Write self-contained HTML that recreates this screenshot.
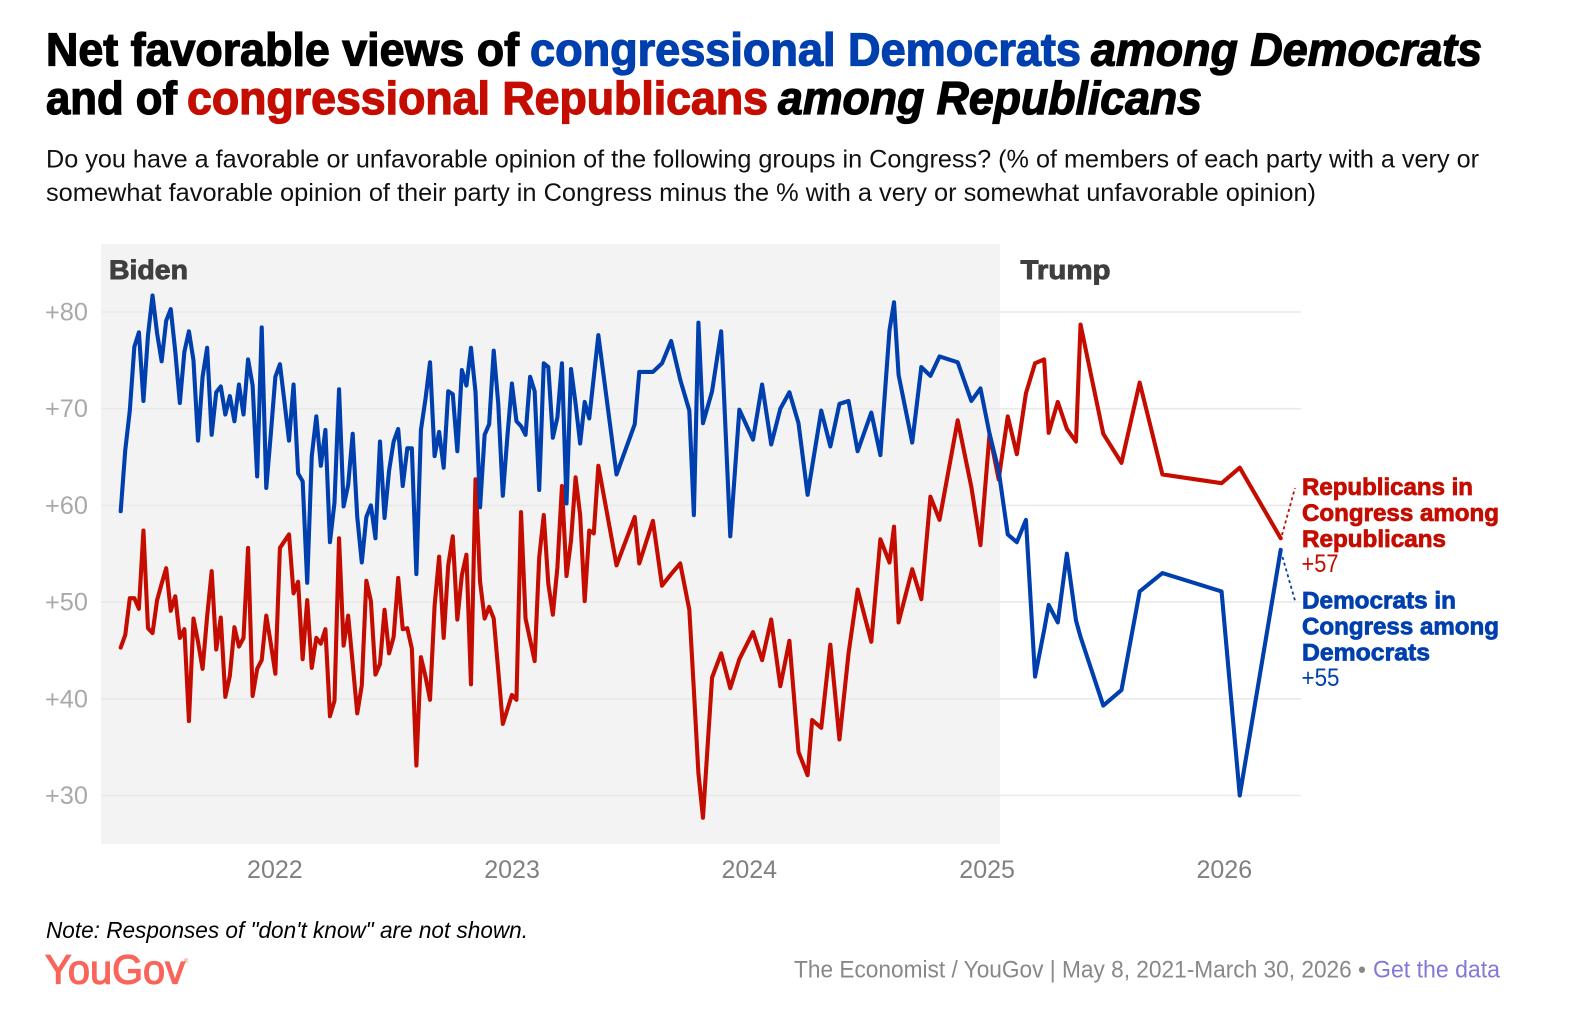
<!DOCTYPE html>
<html lang="en">
<head>
<meta charset="utf-8">
<title>Net favorable views of congressional parties</title>
<style>
html,body{margin:0;padding:0;background:#fff;}
svg{display:block;font-family:"Liberation Sans",sans-serif;}
.h{font-weight:700;font-size:46px;stroke-width:1.3px;}
.sub{font-size:25px;fill:#111;}
.lab{font-weight:700;font-size:24.5px;stroke-width:.8px;}
</style>
</head>
<body>
<svg id="chart" width="1584" height="1018" viewBox="0 0 1584 1018" xmlns="http://www.w3.org/2000/svg">
  <text class="h" x="46" y="65.5" fill="#000" stroke="#000" textLength="473" lengthAdjust="spacingAndGlyphs">Net favorable views of</text>
  <text class="h" x="530" y="65.5" fill="#003fae" stroke="#003fae" textLength="551" lengthAdjust="spacingAndGlyphs">congressional Democrats</text>
  <text class="h" x="1091" y="65.5" fill="#000" stroke="#000" font-style="italic" textLength="391" lengthAdjust="spacingAndGlyphs">among Democrats</text>
  <text class="h" x="46" y="114" fill="#000" stroke="#000" textLength="131" lengthAdjust="spacingAndGlyphs">and of</text>
  <text class="h" x="187" y="114" fill="#c40d00" stroke="#c40d00" textLength="581" lengthAdjust="spacingAndGlyphs">congressional Republicans</text>
  <text class="h" x="778" y="114" fill="#000" stroke="#000" font-style="italic" textLength="424" lengthAdjust="spacingAndGlyphs">among Republicans</text>

  <text class="sub" x="46" y="167.5" textLength="1433" lengthAdjust="spacingAndGlyphs">Do you have a favorable or unfavorable opinion of the following groups in Congress? (% of members of each party with a very or</text>
  <text class="sub" x="46" y="201" textLength="1270" lengthAdjust="spacingAndGlyphs">somewhat favorable opinion of their party in Congress minus the % with a very or somewhat unfavorable opinion)</text>

  <rect x="101" y="244" width="899" height="600" fill="#f3f3f3"/>
  <g id="grid"></g>
  <g id="yaxis"></g>
  <g id="xaxis"></g>

  <text x="109" y="279" font-size="27" font-weight="700" fill="#3f3f3f" stroke="#3f3f3f" stroke-width=".9" textLength="79" lengthAdjust="spacingAndGlyphs">Biden</text>
  <text x="1020.5" y="279" font-size="27" font-weight="700" fill="#3f3f3f" stroke="#3f3f3f" stroke-width=".9" textLength="90" lengthAdjust="spacingAndGlyphs">Trump</text>

  <g id="series"></g>

  <line x1="1282" y1="535" x2="1295" y2="488" stroke="#c40d00" stroke-width="1.8" stroke-dasharray="3 3"/>
  <line x1="1282.5" y1="557" x2="1295.4" y2="602" stroke="#003fae" stroke-width="1.8" stroke-dasharray="3 3"/>

  <g fill="#c40d00" stroke="#c40d00">
    <text class="lab" x="1302" y="495" textLength="171" lengthAdjust="spacingAndGlyphs">Republicans in</text>
    <text class="lab" x="1302" y="521" textLength="197" lengthAdjust="spacingAndGlyphs">Congress among</text>
    <text class="lab" x="1302" y="547" textLength="144" lengthAdjust="spacingAndGlyphs">Republicans</text>
  </g>
  <g fill="#003fae" stroke="#003fae">
    <text class="lab" x="1302" y="608.5" textLength="154" lengthAdjust="spacingAndGlyphs">Democrats in</text>
    <text class="lab" x="1302" y="634.5" textLength="197" lengthAdjust="spacingAndGlyphs">Congress among</text>
    <text class="lab" x="1302" y="660.5" textLength="128" lengthAdjust="spacingAndGlyphs">Democrats</text>
  </g>
  <text id="rep-value" x="1301.5" y="572" font-size="25" fill="#c40d00" textLength="37" lengthAdjust="spacingAndGlyphs"></text>
  <text id="dem-value" x="1301.5" y="686" font-size="25" fill="#003fae" textLength="38" lengthAdjust="spacingAndGlyphs"></text>

  <text x="46" y="938" font-size="23.5" font-style="italic" fill="#000" textLength="482" lengthAdjust="spacingAndGlyphs">Note: Responses of "don't know" are not shown.</text>
  <text x="45" y="983.5" font-size="41" fill="#f9655a" stroke="#f9655a" stroke-width="1.2" textLength="140" lengthAdjust="spacingAndGlyphs">YouGov</text>
  <text x="184" y="963" font-size="6" fill="#f9655a">®</text>
  <text x="794" y="977.5" font-size="24" fill="#888" textLength="572" lengthAdjust="spacingAndGlyphs">The Economist / YouGov | May 8, 2021-March 30, 2026 •</text>
  <text x="1373" y="977.5" font-size="24" fill="#8378d8" textLength="127" lengthAdjust="spacingAndGlyphs" style="cursor:pointer">Get the data</text>
</svg>
<script>
// Weeks elapsed since the first poll (May 8, 2021)
const surveyWeeks = [0,1,2,3,4,5,6,7,8,9,10,11,12,13,14,15,16,17,18,19,20,21,22,23,24,25,26,27,28,29,30,31,32,33,34,35,36,37,38,39,40,41,42,43,44,45,46,47,48,49,50,51,52,53,54,55,56,57,58,59,60,61,62,63,64,65,66,67,68,69,70,71,72,73,74,75,76,77,78,79,80,81,82,83,84,85,86,87,88,89,90,91,92,93,94,95,96,97,98,99,100,101,102,103,104,105,109,113,114,117,119,121,123,125,126,127,128,130,132,134,136,139,141,143,145,147,149,151,152,154,156,158,160,162,165,167,169,170,171,174,176,178,180,184,187,189,191,193,195,197,199,201,203,204,206,208,210,211,216,220,224,229,242,246,255];
const democratsNet = [59.4,65.7,69.8,76.4,77.9,70.8,77.6,81.7,77.8,74.9,79.1,80.3,75.9,70.6,75.9,78,75,66.7,73.3,76.3,67.3,71.7,72.3,69.4,71.3,68.7,72.5,69.4,75.1,72.4,63,78.4,61.8,67.4,73.3,74.6,70.7,66.7,72.5,63.3,62.5,52,65.1,69.2,64.1,67.8,56.2,60.3,72,59.9,62.1,67.4,58.8,54.1,58.8,60,56.6,66.6,58.7,63.6,66.6,67.9,62,65.9,65.9,52.9,67.8,71,74.8,65.1,67.6,63.9,71.8,71.5,65.6,74,72.4,76.3,71.7,59.8,67.3,68.4,76,70.5,61,67.1,72.6,68.7,68.2,67.3,73.3,71.8,61.6,74.7,74.3,67,69.1,74.7,60.2,74.1,70.5,66.4,70.7,69,73.3,77.6,63.2,68.4,73.8,73.8,74.7,77,73,69.8,59,78.9,68.5,71.8,78,56.8,69.9,66.8,72.5,66.3,70,71.7,68.5,61.1,64,69.8,66.1,70.5,70.8,65.6,69.6,65.2,78.1,81,73.5,66.5,74.3,73.4,75.4,74.8,70.8,72.1,67.4,63.6,57,56.2,58.5,42.3,47.1,49.7,47.9,55,48.1,46.4,39.3,40.9,51.1,53,51.1,30,55.4];
const republicansNet = [45.3,46.6,50.4,50.4,49.3,57.4,47.3,46.8,50.2,51.9,53.5,49.1,50.6,46.3,47.2,37.7,48.3,45.9,43.1,48.5,53.2,45.1,48.4,40.2,42.4,47.4,45.4,46.3,55.6,40.3,43.1,44,48.6,45.7,42.6,55.6,56.3,57,50.9,52.1,44.1,50.2,43.2,46.3,45.7,47.2,38.2,39.8,56.6,45.5,48.6,43.6,38.5,41.4,52.2,50.1,42.5,43.6,49.2,44.7,46.4,52.5,47.2,47.3,45.2,33.1,44.3,42.3,39.9,49.6,54.7,46.3,53.8,56.8,48.2,52.8,54.9,41.5,62.7,52.1,48.3,49.5,48.3,42.9,37.4,38.9,40.4,39.9,59.3,48.3,46.1,43.9,54.6,59,51.9,48.7,53.6,62,52.7,56.4,62.9,59,50.1,57.4,57.1,64.1,53.8,58.8,54,58.4,51.7,52.9,54,49.2,40.9,32.3,27.7,42.2,44.7,41.1,44.1,46.9,44,48.2,41.3,46,34.5,32.1,37.8,37,45.6,35.8,44.7,51.3,45.9,56.5,54.1,57.8,47.9,53.4,50.3,60.9,58.5,68.8,61.9,55.9,67.4,62.7,69.2,65.3,71.6,74.7,75.1,67.5,70.7,67.9,66.6,78.7,67.4,64.4,72.7,63.2,62.3,63.9,56.6];
const yTickValues = [30,40,50,60,70,80];
const xTickYears = [2022,2023,2024,2025,2026];

const SVGNS = 'http://www.w3.org/2000/svg';
const firstPollMs = Date.UTC(2021,4,8);
const DAY_MS = 86400000;
function xFromDays(days){ return 120.7 + days * (4.549 / 7); }
function xFromWeek(week){ return xFromDays(week * 7); }
function xFromYear(year){ return xFromDays((Date.UTC(year,0,1) - firstPollMs) / DAY_MS); }
function yFromValue(v){ return 312 + (80 - v) * 9.67; }

const gridGroup = document.getElementById('grid');
const yGroup = document.getElementById('yaxis');
yTickValues.forEach(function(v){
  const line = document.createElementNS(SVGNS,'line');
  
  
  line.setAttribute('x1', 101);
  line.setAttribute('x2', 1301);
  line.setAttribute('y1', yFromValue(v));
  line.setAttribute('y2', yFromValue(v));
  line.setAttribute('stroke', '#e9e9e9');
  line.setAttribute('stroke-width', '1.6');
  gridGroup.appendChild(line);
  const label = document.createElementNS(SVGNS,'text');
  
  
  label.setAttribute('x', 45);
  label.setAttribute('y', yFromValue(v) + 8.5);
  label.setAttribute('font-size', '25');
  label.setAttribute('fill', '#a9a9a9');
  label.setAttribute('textLength', '43');
  label.setAttribute('lengthAdjust', 'spacingAndGlyphs');
  label.textContent = '+' + v;
  yGroup.appendChild(label);
});

const xGroup = document.getElementById('xaxis');
xTickYears.forEach(function(year){
  const label = document.createElementNS(SVGNS,'text');
  
  
  label.setAttribute('x', xFromYear(year) - 0.5);
  label.setAttribute('y', 878);
  label.setAttribute('text-anchor', 'middle');
  label.setAttribute('font-size', '25');
  label.setAttribute('fill', '#808080');
  label.textContent = year;
  xGroup.appendChild(label);
});

const seriesGroup = document.getElementById('series');
function drawLine(values, color){
  const points = values.map(function(v,i){
    return xFromWeek(surveyWeeks[i]).toFixed(2) + ',' + yFromValue(v).toFixed(2);
  }).join(' ');
  const poly = document.createElementNS(SVGNS,'polyline');
  poly.setAttribute('points', points);
  poly.setAttribute('fill', 'none');
  poly.setAttribute('stroke', color);
  poly.setAttribute('stroke-width', '4.1');
  poly.setAttribute('stroke-linejoin', 'round');
  poly.setAttribute('stroke-linecap', 'round');
  seriesGroup.appendChild(poly);
  return poly;
}
const repLine = drawLine(republicansNet, '#c40d00');


const demLine = drawLine(democratsNet, '#003fae');



document.getElementById('rep-value').textContent = '+' + Math.round(republicansNet[republicansNet.length-1]);
document.getElementById('dem-value').textContent = '+' + Math.round(democratsNet[democratsNet.length-1]);
</script>
</body>
</html>
